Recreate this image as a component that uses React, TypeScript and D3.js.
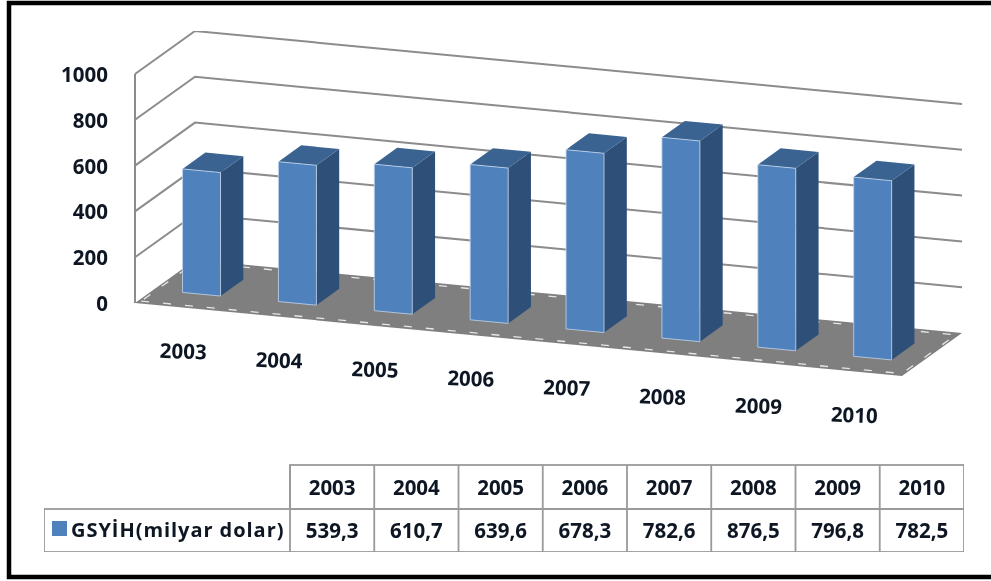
import React from 'react';
import * as d3 from 'd3';

const years = ['2003', '2004', '2005', '2006', '2007', '2008', '2009', '2010'];
const gdp = [539.3, 610.7, 639.6, 678.3, 782.6, 876.5, 796.8, 782.5];
const gdpLabels = ['539,3', '610,7', '639,6', '678,3', '782,6', '876,5', '796,8', '782,5'];
const yTicks = [0, 200, 400, 600, 800, 1000];
const seriesName = 'GSYİH(milyar dolar)';

const FONT = '"Open Sans", "Noto Sans", sans-serif';
const INK = '#0c1622';

// front edge of the chart box and how far the 3d depth pushes things
const frontLeft = { x: 135, y: 303 };
const frontRight = { x: 902, y: 376 };
const depth = { x: 60, y: -43 };

const x = d3.scaleBand<string>()
  .domain(years)
  .range([0, 1])
  .paddingInner(0.604)
  .paddingOuter(0.302);

const h = d3.scaleLinear().domain([0, 1000]).range([0, 229]);

// u = along the years, t = into the depth, v = pixels of height
const project = (u: number, t: number, v: number): [number, number] => [
  frontLeft.x + (frontRight.x - frontLeft.x) * u + depth.x * t,
  frontLeft.y + (frontRight.y - frontLeft.y) * u + depth.y * t - v
];

const path = (pts: [number, number][]) => d3.line()(pts) + 'Z';

const tableX = d3.scaleBand<string>().domain(years).range([290, 964]);
const rowTop = 465, rowMid = 509, rowBottom = 552;

export default function App() {
  const t0 = 0.31, t1 = 0.69;
  return (
    <svg width={991} height={581} viewBox="0 0 991 581" style={{ position: 'absolute', left: 0, top: 0 }} fontFamily={FONT}>
      <defs>
        {/* the reference is an upscaled screenshot, everything is a bit soft */}
        <filter id="soft" x="0" y="0" width="100%" height="100%">
          <feGaussianBlur stdDeviation="0.45" />
        </filter>
      </defs>
      <rect x={0} y={0} width={991} height={581} fill="#fff" />
      {/* frame is cropped on the right, only three sides show */}
      <path d="M991,3H9V577H991" fill="none" stroke="#000" strokeWidth={4.5} />

      <g filter="url(#soft)">
        {/* floor, the pale dashes sit just inside its edge */}
        <path d={path([project(0, 0, 0), project(1, 0, 0), project(1, 1, 0), project(0, 1, 0)])} fill="#7f7f7f" />
        <path d={path([project(0.004, 0.05, 0), project(0.996, 0.05, 0), project(0.996, 0.95, 0), project(0.004, 0.95, 0)])}
          fill="none" stroke="#e6e6e6" strokeWidth={1.3} strokeDasharray="8 14" />

        {/* walls + gridlines */}
        {yTicks.filter(d => d > 0).map(d => (
          <path key={d} d={d3.line()([project(0, 0, h(d)), project(0, 1, h(d)), project(1, 1, h(d))]) || ''}
            fill="none" stroke="#8c8c8c" strokeWidth={2} />
        ))}
        <path d={d3.line()([project(0, 0, 0), project(0, 0, h(1000))]) || ''} fill="none" stroke="#8c8c8c" strokeWidth={2} />

        {/* bars */}
        {years.map((year, i) => {
          const u0 = x(year) || 0;
          const u1 = u0 + x.bandwidth();
          const v = h(gdp[i]);
          return (
            <g key={year}>
              <path d={path([project(u1, t0, 0), project(u1, t1, 0), project(u1, t1, v), project(u1, t0, v)])} fill="#2f5078" />
              <path d={path([project(u0, t0, v), project(u1, t0, v), project(u1, t1, v), project(u0, t1, v)])} fill="#3a6391" />
              <path d={path([project(u0, t0, 0), project(u1, t0, 0), project(u1, t0, v), project(u0, t0, v)])}
                fill="#4f81bd" stroke="#c4d6ec" strokeWidth={0.8} />
            </g>
          );
        })}

        {/* y axis labels */}
        {yTicks.map(d => (
          <text key={d} x={108} y={frontLeft.y - h(d) + 8} textAnchor="end" fontSize={20.5} fontWeight={700} fill={INK}>{d}</text>
        ))}

        {/* year labels under the floor */}
        {years.map(year => {
          const [px, py] = project((x(year) || 0) + x.bandwidth() / 2, 0, 0);
          return (
            <text key={year} transform={`translate(${px},${py + 51}) rotate(2)`} textAnchor="middle" fontSize={20.5} fontWeight={700} fill={INK}>{year}</text>
          );
        })}

        {/* data table */}
        <g fill="none" stroke="#9a9a9a" strokeWidth={1.8}>
          <rect x={290} y={rowTop} width={674} height={rowMid - rowTop} />
          <rect x={44} y={rowMid} width={920} height={rowBottom - rowMid} />
          {years.map(year => (
            <line key={year} x1={tableX(year)} x2={tableX(year)} y1={rowTop} y2={rowBottom} />
          ))}
        </g>
        <rect x={52} y={521} width={15} height={15} fill="#4f81bd" />
        <text x={71} y={537} fontSize={20} fontWeight={700} letterSpacing={0.95} fill={INK}>{seriesName}</text>
        {years.map((year, i) => (
          <g key={year} textAnchor="middle" fontSize={20.5} fontWeight={700} fill={INK}>
            <text x={(tableX(year) || 0) + tableX.bandwidth() / 2} y={495}>{year}</text>
            <text x={(tableX(year) || 0) + tableX.bandwidth() / 2} y={538}>{gdpLabels[i]}</text>
          </g>
        ))}
      </g>
    </svg>
  );
}
